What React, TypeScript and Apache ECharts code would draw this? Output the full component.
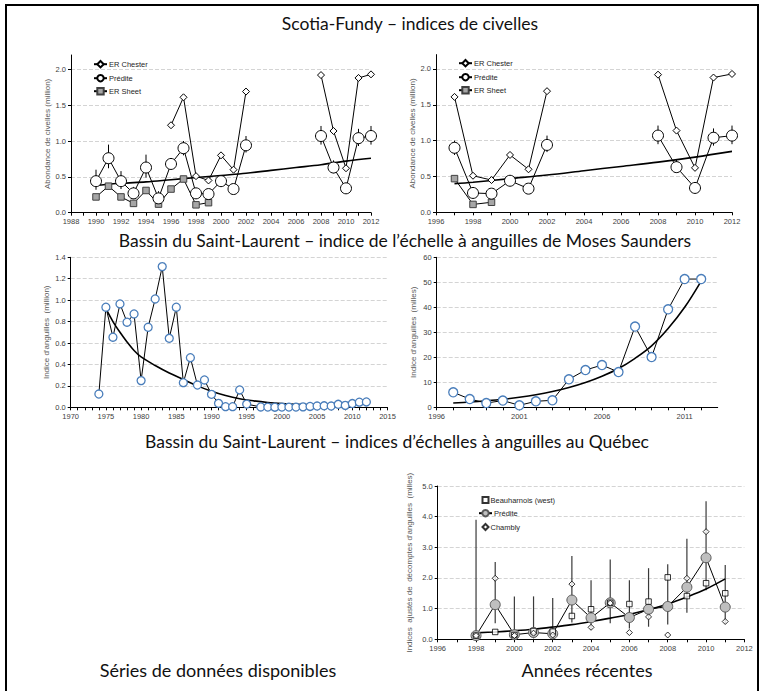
import React, { useEffect, useRef } from "react";
import * as echarts from "echarts";

// Scotia-Fundy glass eel indices (million)
const sfYears = [1990, 1991, 1992, 1993, 1994, 1995, 1996, 1997, 1998, 1999, 2000, 2001, 2002, 2003, 2004, 2005, 2006, 2007, 2008, 2009, 2010, 2011, 2012];
const chester = [null, null, null, null, null, null, 1.22, 1.61, 0.51, 0.45, 0.8, 0.6, 1.69, null, null, null, null, null, 1.92, 1.14, 0.62, 1.88, 1.93];
const predite = [0.44, 0.76, 0.44, 0.27, 0.63, 0.2, 0.68, 0.9, 0.27, 0.26, 0.44, 0.33, 0.94, null, null, null, null, null, 1.07, 0.63, 0.34, 1.04, 1.07];
const prediteLow = [0.32, 0.62, 0.33, 0.19, 0.49, 0.11, 0.61, 0.8, 0.23, 0.22, 0.4, 0.29, 0.84, null, null, null, null, null, 0.95, 0.55, 0.3, 0.93, 0.95];
const prediteHigh = [0.6, 0.95, 0.58, 0.36, 0.81, 0.3, 0.76, 1.0, 0.31, 0.3, 0.51, 0.37, 1.07, null, null, null, null, null, 1.21, 0.73, 0.38, 1.17, 1.21];
const sheet = [0.22, 0.37, 0.22, 0.13, 0.31, 0.12, 0.33, 0.47, 0.11, 0.14, null, null, null, null, null, null, null, null, null, null, null, null, null];

const sfTrendYears = [1990, 1992, 1994, 1996, 1998, 2000, 2002, 2004, 2006, 2008, 2010, 2012];
const sfTrend = [0.38, 0.41, 0.43, 0.46, 0.49, 0.52, 0.55, 0.59, 0.63, 0.67, 0.72, 0.76];
const sfRecentStart = 1997;
const sfRecentTrendYears = [1997, 1998, 2000, 2002, 2004, 2006, 2008, 2010, 2012];
const sfRecentTrend = [0.4, 0.42, 0.47, 0.52, 0.58, 0.64, 0.7, 0.77, 0.85];

// Moses Saunders eel ladder, long series (million)
const msYears = [1974, 1975, 1976, 1977, 1978, 1979, 1980, 1981, 1982, 1983, 1984, 1985, 1986, 1987, 1988, 1989, 1990, 1991, 1992, 1993, 1994, 1995, 1997, 1998, 1999, 2000, 2001, 2002, 2003, 2004, 2005, 2006, 2007, 2008, 2009, 2010, 2011, 2012];
const msIndex = [0.124, 0.934, 0.654, 0.965, 0.794, 0.871, 0.249, 0.747, 1.011, 1.313, 0.644, 0.934, 0.23, 0.463, 0.208, 0.255, 0.121, 0.037, 0.006, 0.006, 0.162, 0.03, 0.003, 0.002, 0.001, 0.002, 0.002, 0.002, 0.004, 0.008, 0.012, 0.014, 0.012, 0.028, 0.018, 0.035, 0.048, 0.05];
const msTrendYears = [1975, 1976, 1977, 1978, 1979, 1980, 1982, 1984, 1986, 1988, 1990, 1992, 1994, 1996, 1998, 2000, 2002, 2004, 2006, 2008, 2010, 2012];
const msTrend = [0.92, 0.8, 0.7, 0.61, 0.53, 0.47, 0.39, 0.32, 0.26, 0.2, 0.15, 0.11, 0.08, 0.06, 0.045, 0.035, 0.028, 0.025, 0.026, 0.03, 0.038, 0.05];

// Moses Saunders eel ladder, recent series (thousands)
const msRecentYears = [1997, 1998, 1999, 2000, 2001, 2002, 2003, 2004, 2005, 2006, 2007, 2008, 2009, 2010, 2011, 2012];
const msRecent = [6.0, 3.3, 1.7, 2.7, 0.8, 2.4, 2.8, 11.2, 14.9, 16.9, 14.1, 32.3, 20.1, 39.2, 51.3, 51.3];
const msRecentTrend = [1.7, 2.1, 2.6, 3.2, 4.0, 5.0, 6.3, 7.9, 9.9, 12.4, 15.5, 19.6, 24.6, 31.5, 40.0, 50.5];

// Quebec eel ladders, adjusted counts (thousands)
const qcYears = [1998, 1999, 2000, 2001, 2002, 2003, 2004, 2005, 2006, 2007, 2008, 2009, 2010, 2011];
const qcPredite = [0.12, 1.13, 0.15, 0.22, 0.18, 1.28, 0.7, 1.19, 0.71, 0.98, 1.07, 1.7, 2.66, 1.05];
const qcLow = [0.0, 0.52, 0.0, 0.03, 0.05, 0.55, 0.3, 0.52, 0.35, 0.41, 0.48, 0.87, 1.6, 0.5];
const qcHigh = [3.9, 2.52, 1.4, 1.4, 1.35, 2.72, 1.93, 2.6, 1.93, 2.32, 2.45, 3.28, 4.5, 2.42];
const beauharnois = [0.12, 0.24, 0.14, 0.27, 0.25, 0.76, 0.98, 1.19, 1.15, 1.23, 2.02, 1.41, 1.83, 1.5];
const chambly = [0.12, 1.99, 0.12, 0.2, 0.14, 1.8, 0.39, 1.18, 0.22, 0.73, 0.14, 1.99, 3.51, 0.58];
const qcTrend = [0.21, 0.24, 0.28, 0.33, 0.4, 0.48, 0.58, 0.69, 0.81, 0.97, 1.15, 1.38, 1.64, 1.97];

const FONT = '"Liberation Sans", Arial, sans-serif';
const TITLE_FONT = 'Lato, "Open Sans", sans-serif';

const pairs = (years: number[], vals: (number | null)[]) =>
  years.map((y, i) => [y, vals[i] == null ? "-" : vals[i]]);

const fromYear = (start: number, vals: (number | null)[]) =>
  vals.filter((_, i) => sfYears[i] >= start);

function xAxis(gridIndex: number, min: number, max: number, every: number) {
  return {
    type: "value",
    gridIndex,
    min,
    max,
    interval: 1,
    axisLine: { show: true, onZero: false, lineStyle: { color: "#000", width: 1 } },
    axisTick: { show: true, length: 3, lineStyle: { color: "#000" } },
    axisLabel: {
      fontSize: 7.5,
      color: "#404040",
      fontFamily: FONT,
      margin: 5,
      showMaxLabel: (max - min) % every === 0,
      formatter: (v: number) => ((Math.round(v) - min) % every === 0 ? String(Math.round(v)) : ""),
    },
    splitLine: { show: false },
  };
}

function yAxis(gridIndex: number, max: number, interval: number, digits: number, name: string, nameGap: number, gridAtMax = true) {
  return {
    type: "value",
    gridIndex,
    min: 0,
    max,
    interval,
    name,
    nameLocation: "middle",
    nameGap,
    nameTextStyle: { fontSize: 8, color: "#595959", fontFamily: FONT },
    axisLine: { show: true, onZero: false, lineStyle: { color: "#000", width: 1 } },
    axisTick: { show: true, length: 3, lineStyle: { color: "#000" } },
    axisLabel: {
      fontSize: 7.5,
      color: "#404040",
      fontFamily: FONT,
      margin: 5,
      showMaxLabel: gridAtMax,
      formatter: (v: number) => v.toFixed(digits),
    },
    splitLine: {
      show: true,
      showMinLine: false,
      showMaxLine: gridAtMax,
      lineStyle: { color: "#d4d4d4", type: "dashed", width: 1 },
    },
  };
}

function errorBars(ax: number, years: number[], lo: (number | null)[], hi: (number | null)[], color: string, width: number) {
  return {
    type: "custom",
    xAxisIndex: ax,
    yAxisIndex: ax,
    z: 2,
    silent: true,
    data: years.map((y, i) => (lo[i] == null ? null : [y, lo[i], hi[i]])).filter(Boolean),
    encode: { x: 0, y: [1, 2] },
    renderItem: (_p: any, api: any) => {
      const x = api.value(0);
      const a = api.coord([x, api.value(1)]);
      const b = api.coord([x, api.value(2)]);
      return {
        type: "line",
        shape: { x1: a[0], y1: a[1], x2: b[0], y2: b[1] },
        style: { stroke: color, lineWidth: width },
      };
    },
  };
}

function trend(ax: number, years: number[], vals: number[]) {
  return {
    type: "line",
    xAxisIndex: ax,
    yAxisIndex: ax,
    z: 3,
    silent: true,
    smooth: 0.35,
    showSymbol: false,
    symbol: "none",
    data: pairs(years, vals),
    lineStyle: { color: "#000", width: 1.6 },
  };
}

function marked(ax: number, name: string, years: number[], vals: (number | null)[], symbol: string, size: number, fill: string, border: string, z: number) {
  return {
    type: "line",
    name,
    xAxisIndex: ax,
    yAxisIndex: ax,
    z,
    data: pairs(years, vals),
    symbol,
    symbolSize: size,
    showAllSymbol: true,
    itemStyle: { color: fill, borderColor: border, borderWidth: 1 },
    lineStyle: { color: "#000", width: 1 },
  };
}

function legendItem(name: string, left: number, cy: number, extra: any = {}) {
  return {
    data: [extra.item ? { name, ...extra.item } : name],
    left,
    top: cy - 5,
    orient: "vertical",
    padding: 0,
    itemWidth: extra.itemWidth ?? 13,
    itemHeight: extra.itemHeight ?? 8,
    selectedMode: false,
    textStyle: { fontSize: 7.5, color: "#262626", fontFamily: FONT, padding: [0, 0, 0, -3] },
  };
}

function buildOption() {
  const recentSf = sfYears.filter((y) => y >= sfRecentStart);
  const title = (text: string, x: number, y: number, size: number) => ({
    type: "text",
    x,
    y,
    silent: true,
    style: { text, align: "center", verticalAlign: "middle", fontSize: size, fontFamily: TITLE_FONT, fill: "#111" },
  });

  return {
    animation: false,
    backgroundColor: "#ffffff",
    textStyle: { fontFamily: FONT },
    graphic: [
      { type: "rect", silent: true, z: 100, shape: { x: 6, y: 5, width: 752, height: 700 }, style: { fill: "none", stroke: "#000", lineWidth: 2 } },
      title("Scotia-Fundy – indices de civelles", 410, 23, 17.5),
      title("Bassin du Saint-Laurent – indice de l’échelle à anguilles de Moses Saunders", 405, 240, 17.5),
      title("Bassin du Saint-Laurent – indices d’échelles à anguilles au Québec", 397, 441, 17.5),
      title("Séries de données disponibles", 218, 670, 18),
      title("Années récentes", 587, 670, 18),
    ],
    grid: [
      { left: 71, top: 55, width: 300, height: 157.7 },
      { left: 436, top: 54.6, width: 296, height: 157.7 },
      { left: 70.7, top: 257.3, width: 316.8, height: 150 },
      { left: 436.7, top: 257.3, width: 281, height: 150 },
      { left: 437.7, top: 486, width: 306.7, height: 153.3 },
    ],
    xAxis: [
      xAxis(0, 1988, 2012, 2),
      xAxis(1, 1996, 2012, 2),
      xAxis(2, 1970, 2015, 5),
      xAxis(3, 1996, 2013, 5),
      xAxis(4, 1996, 2012, 2),
    ],
    yAxis: [
      yAxis(0, 2.2, 0.5, 1, "Abondance de civelles (million)", 18, false),
      yAxis(1, 2.2, 0.5, 1, "Abondance de civelles (million)", 18, false),
      yAxis(2, 1.4, 0.2, 1, "Indice d'anguilles  (million)", 20),
      yAxis(3, 60, 10, 0, "Indice d'anguilles  (milles)", 19),
      yAxis(4, 5, 1, 1, "Indices  ajustés de  décomptes d'anguilles  (milles)", 24),
    ],
    legend: [
      legendItem("ER Chester", 93, 65),
      legendItem("Prédite", 93, 79),
      legendItem("ER Sheet", 93, 92),
      legendItem("ER Chester", 458, 64),
      legendItem("Prédite", 458, 78),
      legendItem("ER Sheet", 458, 91),
      legendItem("Beauharnois (west)", 481.5, 501, { itemHeight: 6, itemWidth: 6 }),
      legendItem("Prédite", 478, 514, { item: { itemStyle: { color: "#bfbfbf", borderColor: "#595959" } } }),
      legendItem("Chambly", 481.5, 528, { itemHeight: 6, itemWidth: 6 }),
    ],
    series: [
      // Scotia-Fundy, full period
      errorBars(0, sfYears, prediteLow, prediteHigh, "#000", 1),
      trend(0, sfTrendYears, sfTrend),
      marked(0, "ER Sheet", sfYears, sheet, "rect", 6.5, "#a6a6a6", "#404040", 4),
      marked(0, "ER Chester", sfYears, chester, "diamond", 7, "#ffffff", "#000", 5),
      marked(0, "Prédite", sfYears, predite, "circle", 11, "#ffffff", "#000", 6),

      // Scotia-Fundy, from 1997
      errorBars(1, recentSf, fromYear(sfRecentStart, prediteLow), fromYear(sfRecentStart, prediteHigh), "#000", 1),
      trend(1, sfRecentTrendYears, sfRecentTrend),
      marked(1, "ER Sheet", recentSf, fromYear(sfRecentStart, sheet), "rect", 6.5, "#a6a6a6", "#404040", 4),
      marked(1, "ER Chester", recentSf, fromYear(sfRecentStart, chester), "diamond", 7, "#ffffff", "#000", 5),
      marked(1, "Prédite", recentSf, fromYear(sfRecentStart, predite), "circle", 11, "#ffffff", "#000", 6),

      // Moses Saunders
      trend(2, msTrendYears, msTrend),
      { ...marked(2, "Moses Saunders", msYears, msIndex, "circle", 8, "#ffffff", "#4a7ebb", 5), itemStyle: { color: "#fff", borderColor: "#4a7ebb", borderWidth: 1.3 } },
      trend(3, msRecentYears, msRecentTrend),
      { ...marked(3, "Moses Saunders récent", msRecentYears, msRecent, "circle", 9, "#ffffff", "#4a7ebb", 5), itemStyle: { color: "#fff", borderColor: "#4a7ebb", borderWidth: 1.3 } },

      // Quebec ladders
      errorBars(4, qcYears, qcLow, qcHigh, "#3a3a3a", 1.2),
      trend(4, qcYears, qcTrend),
      marked(4, "Prédite", qcYears, qcPredite, "circle", 10, "#bfbfbf", "#595959", 5),
      {
        type: "scatter",
        name: "Beauharnois (west)",
        xAxisIndex: 4,
        yAxisIndex: 4,
        z: 7,
        symbol: "rect",
        symbolSize: 5.5,
        data: pairs(qcYears, beauharnois),
        itemStyle: { color: "#ffffff", borderColor: "#000", borderWidth: 1 },
      },
      {
        type: "scatter",
        name: "Chambly",
        xAxisIndex: 4,
        yAxisIndex: 4,
        z: 7,
        symbol: "diamond",
        symbolSize: 6,
        data: pairs(qcYears, chambly),
        itemStyle: { color: "#ffffff", borderColor: "#000", borderWidth: 1 },
      },
    ],
  };
}

export default function App() {
  const ref = useRef<HTMLDivElement>(null);
  useEffect(() => {
    if (!ref.current) return;
    const chart = echarts.init(ref.current, undefined, { renderer: "svg" });
    chart.setOption(buildOption() as any);
    return () => chart.dispose();
  }, []);
  return (
    <div
      ref={ref}
      style={{ position: "fixed", left: 0, top: 0, width: 764, height: 691, background: "#fff" }}
    />
  );
}
